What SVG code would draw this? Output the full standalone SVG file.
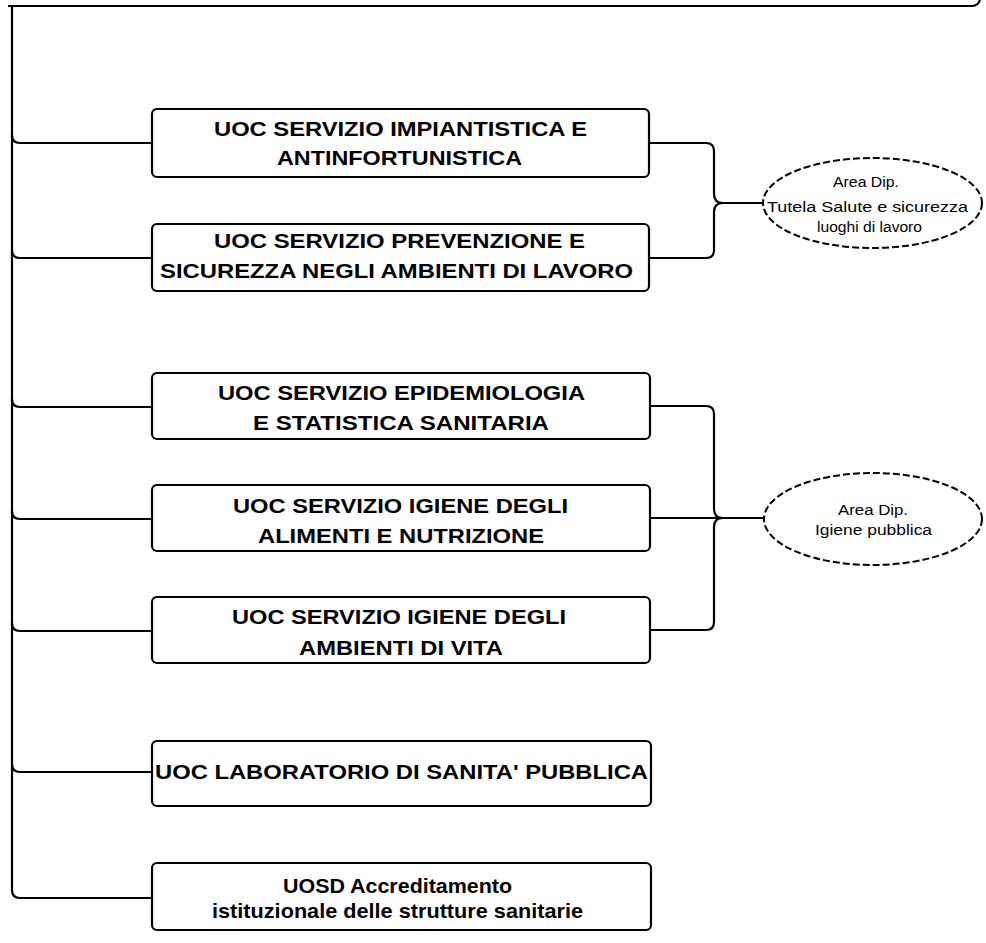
<svg xmlns="http://www.w3.org/2000/svg" width="986" height="943" viewBox="0 0 986 943">
<style>
.box{fill:#fff;stroke:#000;stroke-width:2.2}
.ell{fill:#fff;stroke:#000;stroke-width:2;stroke-dasharray:7 3}
.ln{fill:none;stroke:#000;stroke-width:2.2;stroke-linejoin:round}
.t{font-family:"Liberation Sans",Arial,sans-serif;font-weight:bold;font-size:21px;fill:#000;text-anchor:middle}
.s{font-family:"Liberation Sans",Arial,sans-serif;font-size:15.5px;fill:#000;text-anchor:middle}
</style>
<rect width="986" height="943" fill="#fff"/>
<g id="connectors">
<path class="ln" d="M8 6 H972 Q978 6 980 0" stroke-width="2.6"/>
<path class="ln" d="M12 6 V890 Q12 898 20 898 H152"/>
<path class="ln" d="M12 135 Q12 143 20 143 H152"/>
<path class="ln" d="M12 250 Q12 258 20 258 H152"/>
<path class="ln" d="M12 399 Q12 407 20 407 H152"/>
<path class="ln" d="M12 511 Q12 519 20 519 H152"/>
<path class="ln" d="M12 623 Q12 631 20 631 H152"/>
<path class="ln" d="M12 764 Q12 772 20 772 H152"/>
<path class="ln" d="M650 143 H706 Q714 143 714 151 V194 Q714 203 723 203 Q714 203 714 212 V250 Q714 258 706 258 H650"/>
<path class="ln" d="M723 203 H763"/>
<path class="ln" d="M650 406 H706 Q714 406 714 414 V509 Q714 518 723 518 Q714 518 714 527 V622 Q714 630 706 630 H650"/>
<path class="ln" d="M650 518 H764"/>
</g>
<g id="n1"><rect class="box" x="152" y="109" width="497" height="68" rx="5"/>
<text class="t" x="400.5" y="136" textLength="373" lengthAdjust="spacingAndGlyphs">UOC SERVIZIO IMPIANTISTICA E</text>
<text class="t" x="399.5" y="165" textLength="245" lengthAdjust="spacingAndGlyphs">ANTINFORTUNISTICA</text></g>
<g id="n2"><rect class="box" x="152" y="224" width="497" height="67" rx="5"/>
<text class="t" x="399.5" y="248" textLength="371" lengthAdjust="spacingAndGlyphs">UOC SERVIZIO PREVENZIONE E</text>
<text class="t" x="396.5" y="278" textLength="473" lengthAdjust="spacingAndGlyphs">SICUREZZA NEGLI AMBIENTI DI LAVORO</text></g>
<g id="n3"><rect class="box" x="152" y="373" width="498" height="66" rx="5"/>
<text class="t" x="401.5" y="400" textLength="367" lengthAdjust="spacingAndGlyphs">UOC SERVIZIO EPIDEMIOLOGIA</text>
<text class="t" x="401" y="430" textLength="296" lengthAdjust="spacingAndGlyphs">E STATISTICA SANITARIA</text></g>
<g id="n4"><rect class="box" x="152" y="485" width="498" height="66" rx="5"/>
<text class="t" x="400.5" y="513" textLength="335" lengthAdjust="spacingAndGlyphs">UOC SERVIZIO IGIENE DEGLI</text>
<text class="t" x="401" y="543" textLength="286" lengthAdjust="spacingAndGlyphs">ALIMENTI E NUTRIZIONE</text></g>
<g id="n5"><rect class="box" x="152" y="597" width="498" height="66" rx="5"/>
<text class="t" x="399" y="624" textLength="334" lengthAdjust="spacingAndGlyphs">UOC SERVIZIO IGIENE DEGLI</text>
<text class="t" x="401" y="655" textLength="204" lengthAdjust="spacingAndGlyphs">AMBIENTI DI VITA</text></g>
<g id="n6"><rect class="box" x="152" y="741" width="499" height="65" rx="5"/>
<text class="t" x="401.5" y="779" font-size="22" textLength="493" lengthAdjust="spacingAndGlyphs">UOC LABORATORIO DI SANITA' PUBBLICA</text></g>
<g id="n7"><rect class="box" x="152" y="863" width="499" height="67" rx="5"/>
<text class="t" x="397.5" y="893" textLength="229" lengthAdjust="spacingAndGlyphs">UOSD Accreditamento</text>
<text class="t" x="397.5" y="918" textLength="371" lengthAdjust="spacingAndGlyphs">istituzionale delle strutture sanitarie</text></g>
<g id="e1"><ellipse class="ell" cx="872.5" cy="203" rx="109.5" ry="45"/>
<text class="s" x="866" y="187" textLength="66" lengthAdjust="spacingAndGlyphs">Area Dip.</text>
<text class="s" x="867.5" y="212" textLength="201" lengthAdjust="spacingAndGlyphs">Tutela Salute e sicurezza</text>
<text class="s" x="869.5" y="232" textLength="105" lengthAdjust="spacingAndGlyphs">luoghi di lavoro</text></g>
<g id="e2"><ellipse class="ell" cx="873" cy="519" rx="109" ry="46"/>
<text class="s" x="873" y="515" textLength="70" lengthAdjust="spacingAndGlyphs">Area Dip.</text>
<text class="s" x="873.5" y="535" textLength="117" lengthAdjust="spacingAndGlyphs">Igiene pubblica</text></g>
</svg>
